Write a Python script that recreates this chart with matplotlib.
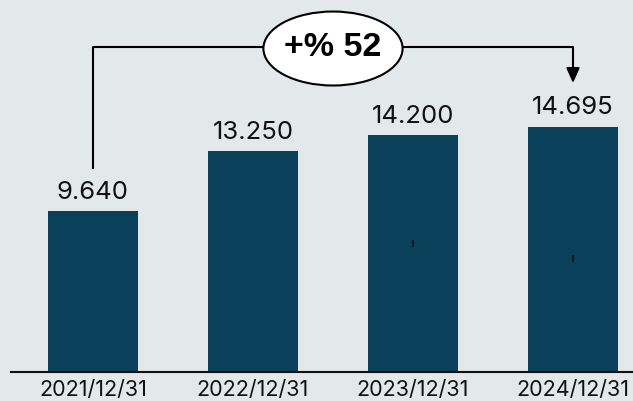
import matplotlib.pyplot as plt
from matplotlib.patches import Ellipse

dates = ["2021/12/31", "2022/12/31", "2023/12/31", "2024/12/31"]
values = [9640, 13250, 14200, 14695]
labels = ["9.640", "13.250", "14.200", "14.695"]
growth_text = "+% 52"

bg = "#e3e8eb"
bar_color = "#0a4059"

fig = plt.figure(figsize=(6.33, 4.01), dpi=100)
fig.patch.set_facecolor(bg)
ax = fig.add_axes([11 / 633, 29 / 401, 622 / 633, 372 / 401])
ax.set_facecolor(bg)

x = list(range(len(values)))
ax.bar(x, values, width=0.5625, color=bar_color, zorder=2)

for i, v in enumerate(values):
    ax.text(i, v + 730, labels[i], ha="center", va="baseline", fontsize=18.5,
            color="#111111", family=["Inter", "DejaVu Sans"])

# small stray marks inside the last bars
ax.vlines([2, 3], [7500, 6600], [7900, 7000], color="#111111", lw=1.2, zorder=3)

ax.set_xlim(-0.5125, 3.375)
ax.set_ylim(0, 22275)
ax.set_xticks(x)
ax.set_xticklabels(dates, fontsize=15.5, color="#111111", family=["Inter", "DejaVu Sans"])
ax.tick_params(axis="x", length=0, pad=6)
ax.set_yticks([])
for s in ["top", "right", "left"]:
    ax.spines[s].set_visible(False)
ax.spines["bottom"].set_linewidth(1.5)
ax.spines["bottom"].set_color("#111111")

# growth bracket
top_y = 19460
ax.plot([0, 0, 3, 3], [12200, top_y, top_y, 18400], color="black", lw=1.5, zorder=3)
ax.annotate("", xy=(3, 17300), xytext=(3, 18500),
            arrowprops=dict(arrowstyle="-|>,head_width=0.4,head_length=0.9",
                            color="black", lw=1.5, shrinkA=0, shrinkB=0))
ax.add_patch(Ellipse((1.5, top_y - 90), 0.87, 4430, facecolor="white",
                     edgecolor="black", lw=1.5, zorder=4))
ax.text(1.5, top_y, growth_text, ha="center", va="center", fontsize=24.5,
        fontweight="bold", zorder=5,
        family=["Liberation Sans", "DejaVu Sans"])

fig.savefig("out.png", dpi=100, facecolor=bg)
